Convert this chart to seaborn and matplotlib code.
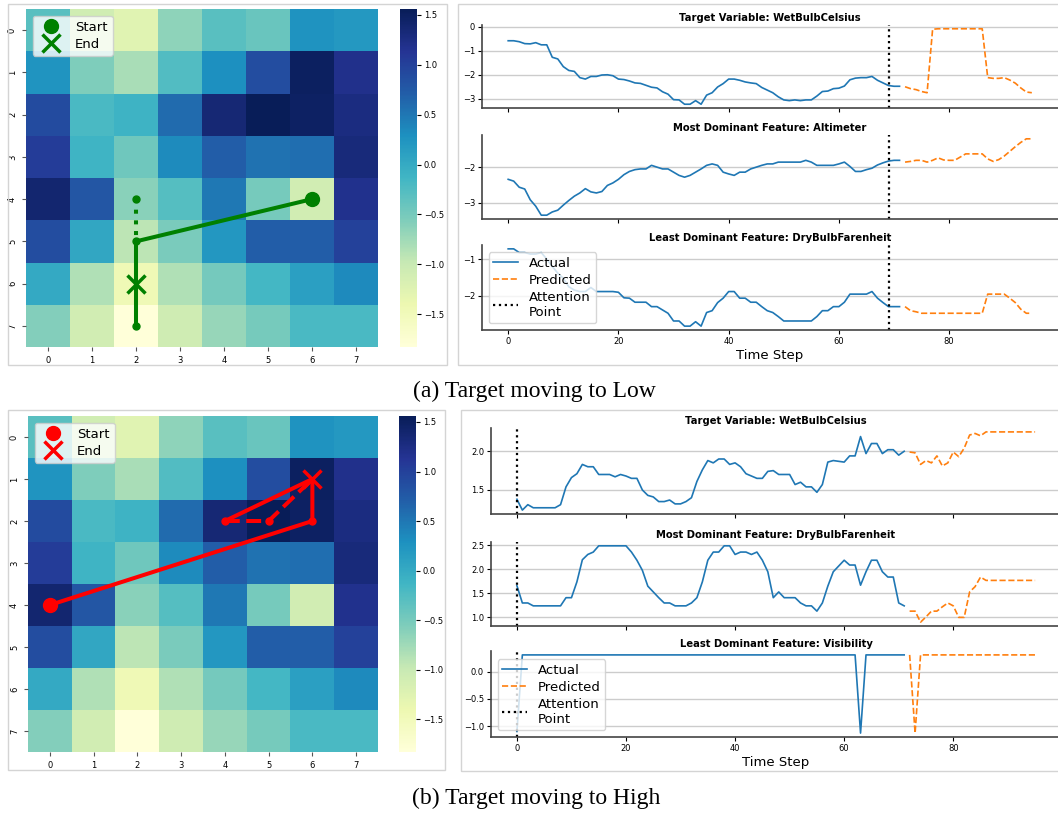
import numpy as np
import matplotlib
matplotlib.use('Agg')
import matplotlib.pyplot as plt
from matplotlib.patches import Rectangle
import seaborn as sns

W, H = 1058, 815

# 8x8 grid shown in both heatmaps
grid = [
    [-0.30, -1.08, -1.25, -0.65, -0.30, -0.40, 0.27, 0.20],
    [0.25, -0.55, -0.80, -0.25, 0.30, 0.88, 1.50, 1.20],
    [0.90, -0.20, -0.10, 0.60, 1.35, 1.56, 1.48, 1.28],
    [1.05, -0.12, -0.45, 0.33, 0.72, 0.55, 0.58, 1.32],
    [1.40, 0.78, -0.62, -0.28, 0.50, -0.50, -1.10, 1.18],
    [0.88, 0.05, -0.92, -0.52, 0.22, 0.72, 0.72, 1.00],
    [0.02, -0.85, -1.45, -0.85, -0.48, -0.15, 0.12, 0.35],
    [-0.58, -1.10, -1.83, -1.07, -0.70, -0.50, -0.20, -0.20],
]

# paths on the grid (column, row)
low_solid_cols = [6, 2, 2]
low_solid_rows = [4, 5, 7]
low_dotted_cols = [2, 2]
low_dotted_rows = [4, 5]
low_dot_cols = [2, 2, 2]
low_dot_rows = [4, 5, 7]
low_start = (6, 4)
low_end = (2, 6)

high_solid_cols = [0, 6, 6, 4]
high_solid_rows = [4, 2, 1, 2]
high_dashed_cols = [4, 5, 6]
high_dashed_rows = [2, 2, 1]
high_dot_cols = [4, 5, 6]
high_dot_rows = [2, 2, 2]
high_start = (0, 4)
high_end = (6, 1)

steps_actual = list(range(0, 72))
steps_pred = list(range(72, 96))

# (a) target moving to low
low_titles = ['Target Variable: WetBulbCelsius',
              'Most Dominant Feature: Altimeter',
              'Least Dominant Feature: DryBulbFarenheit']
low_wetbulb = [-0.58, -0.58, -0.62, -0.70, -0.71, -0.66, -0.75, -0.75, -1.27, -1.34,
               -1.66, -1.82, -1.86, -2.12, -2.18, -2.07, -2.07, -2.01, -2.00, -2.04,
               -2.18, -2.20, -2.26, -2.34, -2.36, -2.44, -2.52, -2.55, -2.71, -2.81,
               -3.04, -3.05, -3.23, -3.23, -3.08, -3.23, -2.85, -2.75, -2.51, -2.37,
               -2.18, -2.18, -2.23, -2.30, -2.34, -2.37, -2.53, -2.64, -2.75, -2.92,
               -3.05, -3.08, -3.05, -3.08, -3.05, -3.05, -2.89, -2.70, -2.68, -2.58,
               -2.56, -2.47, -2.21, -2.14, -2.12, -2.12, -2.07, -2.23, -2.34, -2.45,
               -2.48, -2.48]
low_wetbulb_pred = [-2.50, -2.58, -2.62, -2.70, -2.75, -0.10, -0.08, -0.08, -0.08, -0.08,
                    -0.08, -0.08, -0.08, -0.08, -0.08, -2.12, -2.15, -2.15, -2.12, -2.22,
                    -2.35, -2.55, -2.72, -2.75]
low_altimeter = [-2.34, -2.39, -2.56, -2.61, -2.91, -3.09, -3.34, -3.34, -3.25, -3.20,
                 -3.06, -2.93, -2.81, -2.72, -2.60, -2.69, -2.72, -2.68, -2.51, -2.44,
                 -2.34, -2.21, -2.12, -2.07, -2.05, -2.05, -1.95, -2.00, -2.05, -2.05,
                 -2.14, -2.23, -2.28, -2.23, -2.14, -2.05, -1.95, -1.91, -1.95, -2.14,
                 -2.19, -2.23, -2.14, -2.14, -2.05, -2.00, -1.95, -1.91, -1.91, -1.86,
                 -1.86, -1.86, -1.86, -1.86, -1.81, -1.86, -1.95, -1.95, -1.95, -1.95,
                 -1.91, -1.86, -1.98, -2.12, -2.12, -2.07, -2.03, -1.94, -1.88, -1.83,
                 -1.81, -1.81]
low_altimeter_pred = [-1.86, -1.84, -1.81, -1.81, -1.86, -1.81, -1.74, -1.80, -1.81, -1.81,
                      -1.72, -1.63, -1.63, -1.63, -1.63, -1.77, -1.84, -1.79, -1.69, -1.56,
                      -1.43, -1.31, -1.21, -1.21]
low_drybulb = [-0.72, -0.72, -0.82, -0.82, -0.86, -0.86, -0.82, -1.00, -1.20, -1.38,
               -1.52, -1.75, -1.84, -1.88, -1.88, -1.77, -1.88, -1.88, -1.88, -1.88,
               -1.90, -2.05, -2.06, -2.17, -2.17, -2.17, -2.29, -2.29, -2.38, -2.47,
               -2.68, -2.68, -2.82, -2.82, -2.70, -2.82, -2.45, -2.40, -2.18, -2.06,
               -1.88, -1.88, -2.06, -2.06, -2.17, -2.17, -2.29, -2.40, -2.45, -2.56,
               -2.68, -2.68, -2.68, -2.68, -2.68, -2.68, -2.56, -2.40, -2.40, -2.29,
               -2.29, -2.17, -1.95, -1.95, -1.95, -1.95, -1.88, -2.06, -2.18, -2.29,
               -2.29, -2.29]
low_drybulb_pred = [-2.29, -2.40, -2.43, -2.47, -2.47, -2.47, -2.47, -2.47, -2.47, -2.47,
                    -2.47, -2.47, -2.47, -2.47, -2.47, -1.95, -1.95, -1.95, -1.95, -2.06,
                    -2.18, -2.36, -2.47, -2.47]
low_yticks = [[0, -1, -2, -3], [-2, -3], [-1, -2]]
low_attention = 69

# (b) target moving to high
high_titles = ['Target Variable: WetBulbCelsius',
               'Most Dominant Feature: DryBulbFarenheit',
               'Least Dominant Feature: Visibility']
high_wetbulb = [1.38, 1.24, 1.31, 1.27, 1.27, 1.27, 1.27, 1.27, 1.31, 1.54,
                1.66, 1.71, 1.83, 1.80, 1.80, 1.70, 1.70, 1.70, 1.67, 1.70,
                1.68, 1.65, 1.65, 1.50, 1.43, 1.41, 1.35, 1.35, 1.37, 1.32,
                1.32, 1.35, 1.40, 1.61, 1.76, 1.88, 1.85, 1.90, 1.90, 1.83,
                1.85, 1.80, 1.71, 1.68, 1.65, 1.65, 1.74, 1.75, 1.70, 1.70,
                1.70, 1.57, 1.60, 1.54, 1.54, 1.47, 1.57, 1.86, 1.88, 1.87,
                1.86, 1.94, 1.94, 2.19, 1.97, 2.10, 2.10, 1.97, 2.02, 2.02,
                1.95, 2.00]
high_wetbulb_pred = [1.99, 1.98, 1.83, 1.88, 1.85, 1.94, 1.81, 1.85, 1.99, 1.93,
                     2.04, 2.21, 2.23, 2.20, 2.25, 2.25, 2.25, 2.25, 2.25, 2.25,
                     2.25, 2.25, 2.25, 2.25]
high_drybulb = [1.66, 1.30, 1.30, 1.24, 1.24, 1.24, 1.24, 1.24, 1.24, 1.41,
                1.41, 1.74, 2.20, 2.31, 2.36, 2.49, 2.49, 2.49, 2.49, 2.49,
                2.49, 2.36, 2.19, 1.98, 1.65, 1.53, 1.41, 1.30, 1.30, 1.24,
                1.24, 1.24, 1.30, 1.41, 1.74, 2.19, 2.36, 2.36, 2.49, 2.49,
                2.31, 2.36, 2.36, 2.31, 2.36, 2.19, 1.95, 1.41, 1.53, 1.41,
                1.41, 1.41, 1.30, 1.24, 1.24, 1.13, 1.30, 1.65, 1.95, 2.07,
                2.19, 2.09, 2.09, 1.67, 1.95, 2.19, 2.19, 1.95, 1.84, 1.84,
                1.30, 1.24]
high_drybulb_pred = [1.13, 1.13, 0.90, 1.01, 1.13, 1.13, 1.22, 1.30, 1.24, 1.00,
                     1.00, 1.53, 1.64, 1.84, 1.77, 1.77, 1.77, 1.77, 1.77, 1.77,
                     1.77, 1.77, 1.77, 1.77]
high_visibility = [-1.10] + [0.31] * 62 + [-1.13] + [0.31] * 8
high_visibility_pred = [0.31, -1.13] + [0.31] * 22
high_yticks = [[1.5, 2.0], [1.0, 1.5, 2.0, 2.5], [-1.0, -0.5, 0.0]]
high_attention = 0


def box(x0, y0, x1, y1):
    return [x0 / W, 1 - y1 / H, (x1 - x0) / W, (y1 - y0) / H]


def frame(fig, x0, y0, x1, y1):
    fig.add_artist(Rectangle((x0 / W, 1 - y1 / H), (x1 - x0) / W, (y1 - y0) / H,
                             transform=fig.transFigure, fill=False,
                             edgecolor='#d4d4d4', linewidth=1))


def draw_map(fig, hm_box, cb_box, color, solid, broken, style, dots, start, end):
    ax = fig.add_axes(box(*hm_box))
    cax = fig.add_axes(box(*cb_box))
    sns.heatmap(np.array(grid), cmap='YlGnBu', ax=ax, cbar_ax=cax)
    ax.tick_params(labelsize=6, length=3, color='#555555')
    cax.tick_params(labelsize=6, length=3, pad=2)

    ax.plot(np.array(solid[0]) + .5, np.array(solid[1]) + .5, color=color, lw=2.9)
    ax.plot(np.array(broken[0]) + .5, np.array(broken[1]) + .5, color=color, lw=2.9,
            linestyle=style)
    ax.plot(np.array(dots[0]) + .5, np.array(dots[1]) + .5, 'o', color=color, ms=5)
    ax.plot(start[0] + .5, start[1] + .5, 'o', color=color, ms=10, label='Start')
    ax.plot(end[0] + .5, end[1] + .5, 'x', color=color, ms=12.5, mew=2.5, label='End')
    ax.legend(loc='upper left', fontsize=9.5, handletextpad=0.8, borderpad=0.4,
              labelspacing=0.3)


def draw_series(fig, boxes, titles, actual, predicted, attention, yticks):
    for i in range(3):
        ax = fig.add_axes(box(*boxes[i]))
        sns.lineplot(x=steps_actual, y=actual[i], ax=ax, color='tab:blue', lw=1.2,
                     label='Actual')
        sns.lineplot(x=steps_pred, y=predicted[i], ax=ax, color='tab:orange', lw=1.2,
                     linestyle='--', label='Predicted')
        ax.axvline(attention, color='black', linestyle=':', lw=1.6, label='Attention\nPoint')
        ax.set_xlim(-4.75, 99.75)
        ax.set_xticks([0, 20, 40, 60, 80])
        ax.set_yticks(yticks[i])
        ax.grid(axis='y', color='#cccccc', lw=1)
        ax.set_axisbelow(True)
        for s in ['top', 'right']:
            ax.spines[s].set_visible(False)
        for s in ['left', 'bottom']:
            ax.spines[s].set_color('#444444')
            ax.spines[s].set_linewidth(1.2)
        ax.tick_params(labelsize=6, length=3, pad=2)
        ax.set_title(titles[i], fontsize=7.2, fontweight='bold', pad=3)
        ax.set_ylabel('')
        if i < 2:
            ax.tick_params(labelbottom=False)
            ax.get_legend().remove()
        else:
            ax.legend(loc='lower left', fontsize=9.5, handlelength=1.9,
                      labelspacing=0.3, borderpad=0.35)
            ax.set_xlabel('Time Step', fontsize=9.5, labelpad=2)


fig = plt.figure(figsize=(W / 100, H / 100), dpi=100)

# (a)
frame(fig, 8, 4, 447, 365)
frame(fig, 458, 4, 1070, 365)
draw_map(fig, (26, 9, 378, 347), (400, 9, 417, 347), 'green',
         (low_solid_cols, low_solid_rows), (low_dotted_cols, low_dotted_rows), ':',
         (low_dot_cols, low_dot_rows), low_start, low_end)
draw_series(fig, [(482, 25, 1058, 108), (482, 135, 1058, 219), (482, 245, 1058, 330)],
            low_titles, [low_wetbulb, low_altimeter, low_drybulb],
            [low_wetbulb_pred, low_altimeter_pred, low_drybulb_pred],
            low_attention, low_yticks)
fig.text(534 / W, 1 - 391 / H, '(a) Target moving to Low', ha='center', va='center',
         fontsize=17, family='Liberation Serif')

# (b)
frame(fig, 8, 410, 445, 770)
frame(fig, 461, 410, 1070, 771)
draw_map(fig, (28, 416, 378, 752), (399, 416, 416, 752), 'red',
         (high_solid_cols, high_solid_rows), (high_dashed_cols, high_dashed_rows), '--',
         (high_dot_cols, high_dot_rows), high_start, high_end)
draw_series(fig, [(491, 428, 1061, 514), (491, 542, 1061, 626), (491, 651, 1061, 737)],
            high_titles, [high_wetbulb, high_drybulb, high_visibility],
            [high_wetbulb_pred, high_drybulb_pred, high_visibility_pred],
            high_attention, high_yticks)
fig.text(536 / W, 1 - 798 / H, '(b) Target moving to High', ha='center', va='center',
         fontsize=17, family='Liberation Serif')

fig.savefig('out.png', dpi=100)
